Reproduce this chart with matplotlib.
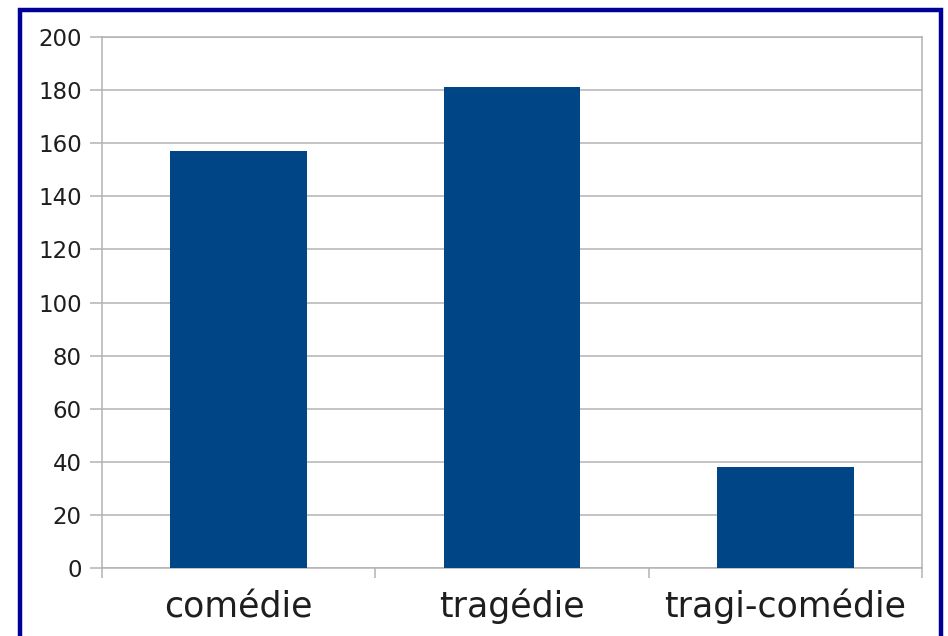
import matplotlib
matplotlib.use("Agg")
import matplotlib.pyplot as plt
from matplotlib.patches import Rectangle
import numpy as np

categories = ["comédie", "tragédie", "tragi-comédie"]
values = [157, 181, 38]
yticks = [0, 20, 40, 60, 80, 100, 120, 140, 160, 180, 200]

plt.rcParams['font.family'] = ['DejaVu Sans']

fig = plt.figure(figsize=(9.48, 6.36), dpi=100)
fig.patch.set_facecolor("white")
ax = fig.add_axes([102/948, 1-568/636, (922-102)/948, (568-37)/636])

x = np.arange(len(categories))
ax.bar(x, values, width=0.5, color="#004586", zorder=3)

ax.set_xlim(-0.5, len(categories) - 0.5)
ax.set_ylim(0, 200)
ax.set_yticks(yticks)
ax.set_yticklabels([str(v) for v in yticks], fontsize=16.5, color="#1e1e1e")
ax.yaxis.grid(True, color="#b3b3b3", lw=1.1, zorder=0)
ax.tick_params(axis="y", length=9, width=1.1, color="#b3b3b3", pad=5.5)

ax.set_xticks(x)
ax.set_xticklabels(categories, fontsize=25, color="#1e1e1e")
for lab in ax.get_xticklabels():
    lab.set_va("baseline")
ax.set_xticks(np.arange(len(categories) + 1) - 0.5, minor=True)
ax.tick_params(axis="x", which="major", length=0, pad=35.5)
ax.tick_params(axis="x", which="minor", length=7, width=1.1, color="#b3b3b3")

for s in ax.spines.values():
    s.set_color("#b3b3b3")
    s.set_linewidth(1.1)

# outer dark blue frame
frame = Rectangle((20/948, -0.1), (941-20)/948, 1.1 - 10/636,
                  transform=fig.transFigure, fill=False,
                  edgecolor="#000099", lw=3.2, clip_on=False)
fig.patches.append(frame)

fig.savefig("out.png", dpi=100, facecolor="white")
